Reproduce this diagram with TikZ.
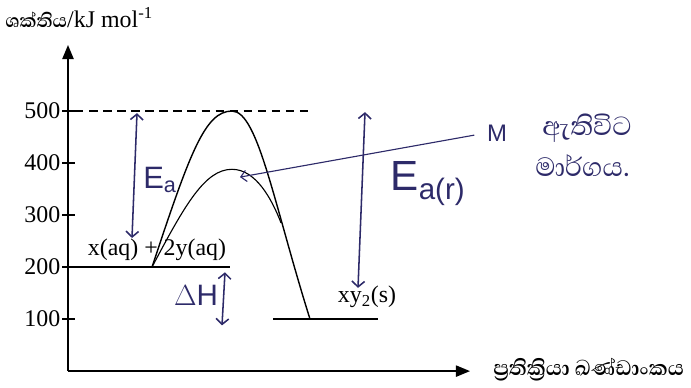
\documentclass[tikz,border=0pt]{standalone}
\usepackage{fontspec}
\setmainfont{Liberation Serif}
\newfontfamily\sinhala[Script=Sinhala]{Abhaya Libre}
\newfontfamily\hand{Liberation Sans}
\usetikzlibrary{arrows.meta}
\definecolor{ink}{RGB}{45,42,105}

\begin{document}
\begin{tikzpicture}[x=0.025cm,y=0.013cm,
    every node/.style={font=\fontsize{17}{20}\selectfont},
    level/.style={line width=1.1pt},
    curve/.style={line width=1pt},
    inkarrow/.style={ink,line width=1.1pt,{Straight Barb[length=4pt,width=9pt]}-{Straight Barb[length=4pt,width=9pt]}},
    handtext/.style={ink,inner sep=0pt}]
    \useasboundingbox (0,-30.8) rectangle (691,713.5);
    % Axes
    \coordinate (O) at (68,0);
    \coordinate (ytop) at (68,627);
    \coordinate (xend) at (470,0);
    \draw[level,-{Triangle[length=10pt,width=8pt]}] (O) -- (ytop);
    \draw[level,-{Triangle[length=10pt,width=8pt]}] (O) -- (xend);
    \node[anchor=west,inner sep=0pt] (ylab) at (5,679) {{\sinhala\bfseries ශක්තිය}/kJ mol\textsuperscript{-1}};
    \node[anchor=west,inner sep=0pt] (xlab) at (493,2) {\sinhala\bfseries\fontsize{19}{22}\selectfont ප්^^^^200dරතික්^^^^200dරියා ඛණ්ඩාංකය};
    % Ticks
    \foreach \e in {100,200,...,500}
        {
            \draw[level] (62,\e) -- (75,\e);
            \node[anchor=east,inner sep=1pt] (t\e) at (62,\e) {\e};
        }
    % Energy levels
    \draw[level,dashed,dash pattern=on 6pt off 4pt] (75,500) -- (310,500);
    \draw[level] (68,200) -- (230,200);
    \draw[level] (273,100) -- (378,100);
    \node (react) at (157,233) {x(aq) + 2y(aq)};
    \node (prod) at (367,142) {xy\textsubscript{2}(s)};
    % Reaction paths
    \draw[curve] (152,200) .. controls (190,420) and (205,500) .. (232,500)
        .. controls (258,500) and (274,320) .. (310,100);
    \draw[curve,line width=0.8pt] (152,200) .. controls (185,320) and (205,388) .. (232,388)
        .. controls (256,388) and (272,330) .. (281,285);

    % Handwritten notes
    \coordinate (eatop) at (137,496);
    \coordinate (eabot) at (132,256);
    \draw[inkarrow] (eatop) -- (eabot);
    \node[handtext,font=\hand\fontsize{22}{24}\selectfont] (ea) at (160,368) {E\textsubscript{a}};
    \coordinate (dhtop) at (225,190);
    \coordinate (dhbot) at (222,88);
    \draw[inkarrow] (dhtop) -- (dhbot);
    \node[handtext,font=\hand\fontsize{21}{24}\selectfont] (dh) at (196,146) {$\Delta$H};
    \coordinate (eartop) at (365,498);
    \coordinate (earbot) at (358,160);
    \draw[inkarrow] (eartop) -- (earbot);
    \node[handtext,font=\hand\fontsize{30}{32}\selectfont] (ear) at (428,360) {E\textsubscript{a(r)}};
    \node[handtext,font=\hand\fontsize{17}{20}\selectfont] (m) at (497,458) {M};
    \node[handtext,anchor=west,font=\sinhala\fontsize{24}{26}\selectfont] (mnote1) at (542,467) {ඇතිවිට};
    \node[handtext,anchor=west,font=\sinhala\fontsize{24}{26}\selectfont] (mnote2) at (535,396) {මාර්ගය.};
    \coordinate (mtip) at (240,373);
    \draw[ink,line width=0.8pt,shorten <=9pt,-{Straight Barb[length=4pt,width=8pt]}] (m.west) -- (mtip);
\end{tikzpicture}
\end{document}
